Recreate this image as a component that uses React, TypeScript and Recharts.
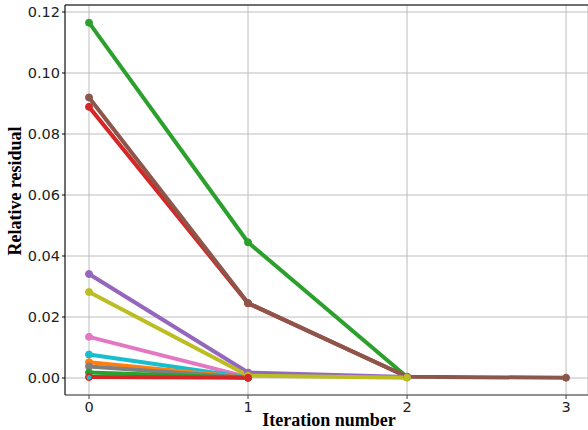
import { LineChart, Line, XAxis, YAxis, CartesianGrid, ReferenceLine } from 'recharts'

const iterations = [0, 1, 2, 3]
const yTicks = [0, 0.02, 0.04, 0.06, 0.08, 0.1, 0.12]

// one array per run, null where the run had already stopped
const greenBig = [0.1165, 0.0445, 0.0003, null]
const redBig = [0.0889, 0.0245, 0.0004, null]
const brown = [0.092, 0.0246, 0.0004, 0.0001]
const purple = [0.0341, 0.0018, 0.0003, null]
const pink = [0.0135, 0.0003, null, null]
const cyan = [0.0077, 0.0002, null, null]
const orange = [0.0052, 0.0001, null, null]
const gray = [0.0038, 0.0001, null, null]
const greenSmall = [0.0018, 0.0001, null, null]
const olive = [0.0282, 0.0008, 0.0001, null]
const redSmall = [0.0003, 0.0001, null, null]
const cyanTiny = [0.0002, null, null, null]

const SERIES = [
  { key: 'greenBig', values: greenBig, color: '#2ca02c', r: 3.5 },
  { key: 'redBig', values: redBig, color: '#d62728', r: 3.5 },
  { key: 'brown', values: brown, color: '#8c564b', r: 3.5 },
  { key: 'purple', values: purple, color: '#9467bd', r: 3.5 },
  { key: 'pink', values: pink, color: '#e377c2', r: 3.5 },
  { key: 'cyan', values: cyan, color: '#17becf', r: 3.5 },
  { key: 'orange', values: orange, color: '#ff7f0e', r: 3.5 },
  { key: 'gray', values: gray, color: '#7f7f7f', r: 3.5 },
  { key: 'greenSmall', values: greenSmall, color: '#2ca02c', r: 3.5 },
  { key: 'olive', values: olive, color: '#bcbd22', r: 3.5 },
  { key: 'redSmall', values: redSmall, color: '#d62728', r: 3.5 },
  { key: 'cyanTiny', values: cyanTiny, color: '#17becf', r: 2 },
]

const data = iterations.map((it, i) => {
  const row: Record<string, number | null> = { it }
  SERIES.forEach((s) => (row[s.key] = s.values[i]))
  return row
})

const Y_MIN = -0.00557
const Y_MAX = 0.1223

export default function App() {
  const tickStyle = { fontFamily: 'DejaVu Sans', fontSize: 14.5, fill: '#222' }
  return (
    <div style={{ position: 'absolute', left: 0, top: 0 }}>
      <LineChart width={588} height={430} data={data} margin={{ top: 5, right: 0, bottom: 0, left: 0 }}>
        <CartesianGrid stroke="#bdbdbd" strokeWidth={1} />
        <XAxis
          dataKey="it"
          type="number"
          domain={[-0.151, 3.138]}
          ticks={iterations}
          height={35}
          tickSize={4}
          tickMargin={3}
          tick={tickStyle}
          stroke="#444"
          allowDataOverflow
        />
        <YAxis
          type="number"
          domain={[Y_MIN, Y_MAX]}
          ticks={yTicks}
          width={65}
          tickSize={3}
          tickMargin={2}
          tick={tickStyle}
          tickFormatter={(v: number) => v.toFixed(2)}
          stroke="#000"
          allowDataOverflow
        />
        <ReferenceLine y={Y_MAX} stroke="#000" strokeWidth={1} ifOverflow="extendDomain" />
        {SERIES.map((s) => (
          <Line
            key={s.key}
            dataKey={s.key}
            stroke={s.color}
            strokeWidth={4}
            dot={{ r: s.r, fill: s.color, stroke: s.color, strokeWidth: 1 }}
            activeDot={false}
            connectNulls={false}
            isAnimationActive={false}
          />
        ))}
        <text
          x={329}
          y={426}
          textAnchor="middle"
          style={{ fontFamily: 'Liberation Serif', fontWeight: 700, fontSize: 18, fill: '#000' }}
        >
          Iteration number
        </text>
        <text
          x={21}
          y={191}
          textAnchor="middle"
          transform="rotate(-90 21 191)"
          style={{ fontFamily: 'Liberation Serif', fontWeight: 700, fontSize: 18, fill: '#000' }}
        >
          Relative residual
        </text>
      </LineChart>
    </div>
  )
}
